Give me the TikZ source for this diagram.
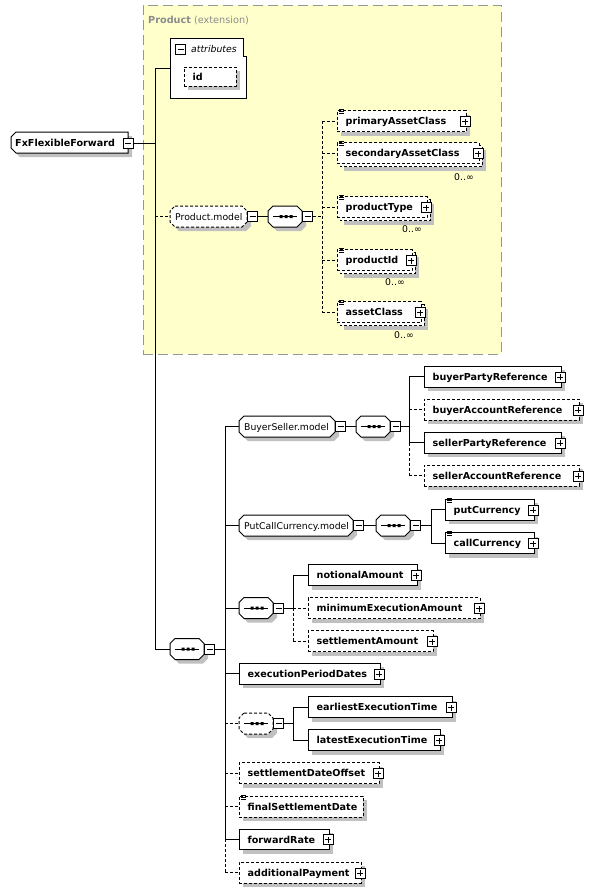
\documentclass[tikz,border=0pt]{standalone}
\usepackage{fontspec}
\setmainfont{DejaVu Sans}
\definecolor{shadowc}{RGB}{192,192,192}
\definecolor{extfill}{RGB}{255,255,204}
\definecolor{extborder}{RGB}{150,150,150}
\definecolor{exttext}{RGB}{140,140,140}
\tikzset{
  ln/.style={line width=1pt},
  dsh/.style={dash pattern=on 3pt off 2pt},
  boxst/.style={draw, line width=1pt, fill=white, inner sep=0pt, outer sep=0pt},
  btext/.style={anchor=base west, inner sep=0pt, font=\fontsize{9.6}{11}\selectfont\bfseries},
  rtext/.style={anchor=base west, inner sep=0pt, font=\fontsize{9.3}{11}\selectfont},
  sgn/.style={draw, fill=white, line width=1pt, minimum size=10pt, inner sep=0pt, outer sep=0pt},
  minusbox/.style={sgn, path picture={\draw[line width=1pt] ([xshift=2pt]path picture bounding box.west) -- ([xshift=-2pt]path picture bounding box.east);}},
  plusbox/.style={sgn, path picture={\draw[line width=1pt] ([xshift=2pt]path picture bounding box.west) -- ([xshift=-2pt]path picture bounding box.east) ([yshift=2pt]path picture bounding box.south) -- ([yshift=-2pt]path picture bounding box.north);}},
}
% octagon path: x1 y1 x2 y2
\newcommand\xoct[4]{(#1+5,#2) -- (#3-5,#2) -- (#3,#2+5) -- (#3,#4-5) -- (#3-5,#4) -- (#1+5,#4) -- (#1,#4-5) -- (#1,#2+5) -- cycle}
% element box: name x1 y1 x2 y2 style text
\newcommand\xel[7]{%
  \fill[shadowc] (#2+4,#3+4) rectangle (#4+4,#5+4);
  \node[boxst,#6,minimum width={(#4)-(#2)},minimum height={(#5)-(#3)}] (#1) at ({((#2)+(#4))/2},{((#3)+(#5))/2}) {};
  \node[btext] (#1-t) at ([xshift=8.5pt,yshift=-3.8pt]#1.west) {#7};}
% multiple element box
\newcommand\xmel[7]{%
  \fill[shadowc] (#2+7,#3+7) rectangle (#4+7,#5+7);
  \draw[line width=1pt,#6,fill=white] (#2+3,#3+3) rectangle (#4+3,#5+3);
  \node[boxst,#6,minimum width={(#4)-(#2)},minimum height={(#5)-(#3)}] (#1) at ({((#2)+(#4))/2},{((#3)+(#5))/2}) {};
  \node[btext] (#1-t) at ([xshift=8.5pt,yshift=-3.8pt]#1.west) {#7};}
\newcommand\xplus[1]{\node[plusbox] (#1-p) at ([xshift=-1pt,yshift=-0.5pt]#1.east) {};}
\newcommand\xicon[1]{\draw[line width=0.8pt] ([xshift=2pt,yshift=1pt]#1.north west) -- ++(5,0) ([xshift=2pt,yshift=-1pt]#1.north west) -- ++(5,0) ([xshift=2pt,yshift=-3pt]#1.north west) -- ++(5,0);}
% octagon with minus: name x1 y1 x2 y2 style
\newcommand\xoctshape[6]{%
  \fill[shadowc] \xoct{#2+4}{#3+4}{#4+4}{#5+4};
  \draw[line width=1pt,#6,fill=white] \xoct{#2}{#3}{#4}{#5};
  \node[inner sep=0pt,outer sep=0pt,minimum width={(#4)-(#2)},minimum height={(#5)-(#3)}] (#1) at ({((#2)+(#4))/2},{((#3)+(#5))/2}) {};
  \node[minusbox] (#1-m) at ([xshift=5.5pt]#1.east) {};}
\newcommand\xgrp[7]{\xoctshape{#1}{#2}{#3}{#4}{#5}{#6}%
  \node[rtext] (#1-t) at ([xshift=5pt,yshift=-3.6pt]#1.west) {#7};}
% sequence: name x1 cy style
\newcommand\xsq[4]{\xoctshape{#1}{#2}{#3-10.5}{#2+34}{#3+10.5}{#4}%
  \draw[line width=1pt] ([xshift=5pt]#1.west) -- ([xshift=-5pt]#1.east);
  \fill ([xshift=-5.5pt,yshift=1.5pt]#1.center) rectangle ++(3,3)
        ([xshift=-0.5pt,yshift=1.5pt]#1.center) rectangle ++(3,3)
        ([xshift=4.5pt,yshift=1.5pt]#1.center) rectangle ++(3,3);}
\begin{document}
\begin{tikzpicture}[x=1pt,y=-1pt]
\useasboundingbox (0,0) rectangle (607,892);
\fill[white] (0,0) rectangle (607,892);
% extension frame
\node[draw=extborder, fill=extfill, line width=1pt, dash pattern=on 10pt off 5pt, inner sep=0pt, minimum width=358pt, minimum height=349pt] (ext) at (322,179.5) {};
\node[anchor=base west, inner sep=0pt, text=exttext, font=\fontsize{9.7}{11}\selectfont] (ttl) at (148,23) {\textbf{Product} (extension)};
% bus coordinates
\coordinate (b1) at (155,0);
\coordinate (b2) at (225,0);
\coordinate (b3) at (322,0);
\coordinate (b4) at (409,0);
\coordinate (b5) at (431,0);
\coordinate (b6) at (293,0);
% root
\fill[shadowc] (20,136) -- (132,136) -- (132,157) -- (20,157) -- (15,152) -- (15,141) -- cycle;
\draw[line width=1pt, fill=white] (16,132) -- (128,132) -- (128,153) -- (16,153) -- (11,148) -- (11,137) -- cycle;
\node[inner sep=0pt, outer sep=0pt, minimum width=117pt, minimum height=21pt] (root) at (69.5,142.5) {};
\node[btext] (root-t) at ([xshift=4pt,yshift=-3.8pt]root.west) {FxFlexibleForward};
\node[minusbox] (root-m) at (128,143) {};
% attributes
\draw[line width=1pt, fill=white] (170,38) -- (243,38) -- (243,56) -- (246,56) -- (246,98) -- (170,98) -- cycle;
\node[inner sep=0pt, outer sep=0pt, minimum width=76pt, minimum height=60pt] (att) at (208,68) {};
\node[minusbox] (att-m) at (180.5,49) {};
\node[rtext, font=\fontsize{9.3}{11}\selectfont\itshape] (att-t) at (191,52) {attributes};
\xel{id}{184}{67}{236}{86}{dsh}{id}
% Product.model
\xgrp{pm}{170}{206}{247}{227}{dsh}{Product.model}
\xsq{sq1}{268}{216.5}{solid}
\xel{pac}{337}{110.5}{466}{131.5}{dsh}{primaryAssetClass}\xicon{pac}\xplus{pac}
\xmel{sac}{337}{142.5}{479}{163.5}{dsh}{secondaryAssetClass}\xicon{sac}\xplus{sac}
\xmel{pt}{337}{196.5}{427}{217.5}{dsh}{productType}\xicon{pt}\xplus{pt}
\xmel{pid}{337}{249.5}{412}{270.5}{dsh}{productId}\xicon{pid}\xplus{pid}
\xmel{ac}{337}{301.5}{421}{322.5}{dsh}{assetClass}\xicon{ac}\xplus{ac}
\node[rtext, anchor=center] (sac-n) at (464,177) {0..∞};
\node[rtext, anchor=center] (pt-n) at (412,229) {0..∞};
\node[rtext, anchor=center] (pid-n) at (395,282) {0..∞};
\node[rtext, anchor=center] (ac-n) at (404,335) {0..∞};
% main sequence
\xsq{sq4}{170}{649}{solid}
% BuyerSeller
\xgrp{bsm}{239}{416}{335}{437}{solid}{BuyerSeller.model}
\xsq{sq2}{356}{426.5}{solid}
\xel{bpr}{424}{366}{561}{387}{solid}{buyerPartyReference}\xplus{bpr}
\xel{bar}{424}{399}{579}{420}{dsh}{buyerAccountReference}\xplus{bar}
\xel{spr}{424}{432}{561}{453}{solid}{sellerPartyReference}\xplus{spr}
\xel{sar}{424}{465}{579}{486}{dsh}{sellerAccountReference}\xplus{sar}
% PutCallCurrency
\xgrp{pcm}{239}{515}{353}{536}{solid}{PutCallCurrency.model}
\xsq{sq3}{376}{525.5}{solid}
\xel{put}{445}{499}{534}{520}{solid}{putCurrency}\xicon{put}\xplus{put}
\xel{call}{445}{532.5}{534}{553.5}{solid}{callCurrency}\xicon{call}\xplus{call}
% amounts
\xsq{sq5}{239}{608}{solid}
\xel{na}{308}{564.5}{417}{585.5}{solid}{notionalAmount}\xplus{na}
\xel{mea}{308}{597.5}{480}{618.5}{dsh}{minimumExecutionAmount}\xplus{mea}
\xel{sa}{308}{630.5}{433}{651.5}{dsh}{settlementAmount}\xplus{sa}
\xel{epd}{239}{663}{380}{684}{solid}{executionPeriodDates}\xplus{epd}
% times
\xsq{sq6}{239}{723.5}{dsh}
\xel{eet}{308}{696.5}{452}{717.5}{solid}{earliestExecutionTime}\xplus{eet}
\xel{let}{308}{729.5}{440}{750.5}{solid}{latestExecutionTime}\xplus{let}
\xel{sdo}{239}{762.5}{379}{783.5}{dsh}{settlementDateOffset}\xplus{sdo}
\xel{fsd}{239}{796}{363}{817}{dsh}{finalSettlementDate}\xicon{fsd}
\xel{fwd}{239}{829}{329}{849.5}{solid}{forwardRate}\xplus{fwd}
\xel{add}{239}{862}{361}{883}{dsh}{additionalPayment}\xplus{add}
% connectors: root level
\draw[ln] (root-m.east) -- (root-m.east -| b1);
\draw[ln] (att.west -| b1) -- (sq4.west -| b1);
\draw[ln] (att.west -| b1) -- (att.west);
\draw[ln,dsh] (pm.west -| b1) -- (pm.west);
\draw[ln] (sq4.west -| b1) -- (sq4.west);
% Product.model
\draw[ln] (pm-m.east) -- (sq1.west);
\draw[ln,dsh] (sq1-m.east) -- (sq1-m.east -| b3);
\draw[ln,dsh] (pac.west -| b3) -- (ac.west -| b3);
\foreach \n in {pac,sac,pt,pid,ac} \draw[ln,dsh] (\n.west -| b3) -- (\n.west);
% main sequence children
\draw[ln] (sq4-m.east) -- (sq4-m.east -| b2);
\draw[ln] (bsm.west -| b2) -- (fwd.west -| b2);
\draw[ln,dsh] (fwd.west -| b2) -- (add.west -| b2);
\foreach \n in {bsm,pcm,sq5,epd,fwd} \draw[ln] (\n.west -| b2) -- (\n.west);
\foreach \n in {sq6,sdo,fsd,add} \draw[ln,dsh] (\n.west -| b2) -- (\n.west);
% BuyerSeller
\draw[ln] (bsm-m.east) -- (sq2.west);
\draw[ln] (sq2-m.east) -- (sq2-m.east -| b4);
\draw[ln] (bpr.west -| b4) -- (spr.west -| b4);
\draw[ln,dsh] (spr.west -| b4) -- (sar.west -| b4);
\foreach \n in {bpr,spr} \draw[ln] (\n.west -| b4) -- (\n.west);
\foreach \n in {bar,sar} \draw[ln,dsh] (\n.west -| b4) -- (\n.west);
% PutCallCurrency
\draw[ln] (pcm-m.east) -- (sq3.west);
\draw[ln] (sq3-m.east) -- (sq3-m.east -| b5);
\draw[ln] (put.west -| b5) -- (call.west -| b5);
\foreach \n in {put,call} \draw[ln] (\n.west -| b5) -- (\n.west);
% amounts
\draw[ln] (sq5-m.east) -- (sq5-m.east -| b6);
\draw[ln] (na.west -| b6) -- (sq5-m.east -| b6);
\draw[ln,dsh] (sq5-m.east -| b6) -- (sa.west -| b6);
\draw[ln] (na.west -| b6) -- (na.west);
\foreach \n in {mea,sa} \draw[ln,dsh] (\n.west -| b6) -- (\n.west);
% times
\draw[ln] (sq6-m.east) -- (sq6-m.east -| b6);
\draw[ln] (eet.west -| b6) -- (let.west -| b6);
\foreach \n in {eet,let} \draw[ln] (\n.west -| b6) -- (\n.west);
\end{tikzpicture}
\end{document}
